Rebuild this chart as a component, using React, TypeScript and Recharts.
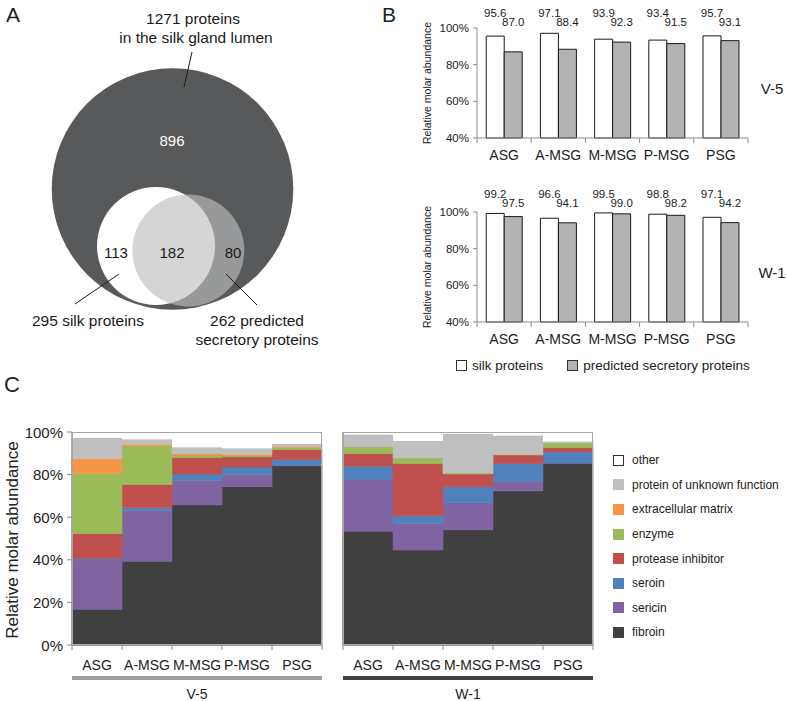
import React from "react";
import { BarChart, Bar, XAxis, YAxis, LabelList, ScatterChart, Scatter, ZAxis } from "recharts";

const FONT = '"Liberation Sans", Arial, Helvetica, sans-serif';
const AXIS = "#8c8c8c";
const INK = "#222";

// ---------- A: Venn diagram (circle centres / radii in diagram units)
const vennSets = ["lumen", "silk", "secretory"];
const vennCx = [172.5, 156, 188.3];
const vennCy = [189, 246, 250.5];
const vennR = [120.8, 59, 56];

const countLabels = ["896", "113", "182", "80"];
const countX = [172, 116, 172, 233];
const countY = [140, 252, 252, 252];

const captionLines = ["1271 proteins", "in the silk gland lumen", "295 silk proteins", "262 predicted", "secretory proteins"];
const captionX = [193, 196, 88, 257, 257];
const captionY = [18, 37, 320, 320, 339];

const leaderLumen = [{ x: 192, y: 52 }, { x: 184, y: 87 }];
const leaderSilk = [{ x: 119, y: 274 }, { x: 75, y: 304 }];
const leaderSecretory = [{ x: 226, y: 274 }, { x: 257, y: 305 }];

// ---------- B: share of silk / predicted secretory proteins (%)
const regions = ["ASG", "A-MSG", "M-MSG", "P-MSG", "PSG"];
const silkV5 = [95.6, 97.1, 93.9, 93.4, 95.7];
const secretoryV5 = [87.0, 88.4, 92.3, 91.5, 93.1];
const silkW1 = [99.2, 96.6, 99.5, 98.8, 97.1];
const secretoryW1 = [97.5, 94.1, 99.0, 98.2, 94.2];

// ---------- C: relative molar abundance by protein class (%)
const v5Fibroin = [16.8, 39.3, 65.7, 74.4, 84.1];
const v5Sericin = [23.1, 23.7, 11.7, 5.8, 0.3];
const v5Seroin = [0.7, 1.4, 2.9, 3.4, 2.7];
const v5Inhibitor = [11.8, 11.0, 7.7, 4.7, 4.6];
const v5Enzyme = [28.1, 18.2, 1.2, 0.6, 1.0];
const v5Matrix = [7.0, 0.6, 0.7, 0.5, 0.4];
const v5Unknown = [9.8, 2.4, 2.9, 3.0, 1.3];
const v5Other = [2.7, 3.4, 7.2, 7.6, 5.6];

const w1Fibroin = [53.4, 44.6, 54.1, 72.4, 85.2];
const w1Sericin = [24.4, 12.5, 12.7, 4.4, 0.3];
const w1Seroin = [6.1, 3.6, 7.5, 8.4, 5.1];
const w1Inhibitor = [6.0, 24.5, 6.0, 4.0, 2.1];
const w1Enzyme = [3.1, 2.6, 0.4, 0.3, 2.2];
const w1Matrix = [0, 0, 0, 0, 0];
const w1Unknown = [5.8, 8.0, 18.5, 8.8, 0.6];
const w1Other = [1.2, 4.2, 0.8, 1.7, 4.5];

const classKeys = ["fibroin", "sericin", "seroin", "inhibitor", "enzyme", "matrix", "unknown", "other"];
const classNames = ["fibroin", "sericin", "seroin", "protease inhibitor", "enzyme", "extracellular matrix", "protein of unknown function", "other"];
const classColors: Record<string, string> = {
  fibroin: "#404040",
  sericin: "#8064a2",
  seroin: "#4f81bd",
  inhibitor: "#c0504d",
  enzyme: "#9bbb59",
  matrix: "#f79646",
  unknown: "#bfbfbf",
  other: "#ffffff",
};

const vennStyle: Record<string, { fill: string; opacity: number }> = {
  lumen: { fill: "#58595b", opacity: 1 },
  silk: { fill: "#ffffff", opacity: 1 },
  secretory: { fill: "#bebebe", opacity: 0.64 },
};

const circleData = vennSets.map((s, i) => ({ name: s, x: vennCx[i], y: vennCy[i], area: Math.PI * vennR[i] * vennR[i] }));
const countData = countLabels.map((l, i) => ({ label: l, x: countX[i], y: countY[i], white: i === 0 }));
const captionData = captionLines.map((l, i) => ({ label: l, x: captionX[i], y: captionY[i] }));
const MAX_AREA = 200000;

const pairData = (a: number[], b: number[]) => regions.map((r, i) => ({ region: r, silk: a[i], secretory: b[i] }));
const stackData = (cols: number[][]) =>
  regions.map((r, i) => {
    const row: Record<string, any> = { region: r };
    classKeys.forEach((k, j) => (row[k] = cols[j][i]));
    return row;
  });

const v5Stack = stackData([v5Fibroin, v5Sericin, v5Seroin, v5Inhibitor, v5Enzyme, v5Matrix, v5Unknown, v5Other]);
const w1Stack = stackData([w1Fibroin, w1Sericin, w1Seroin, w1Inhibitor, w1Enzyme, w1Matrix, w1Unknown, w1Other]);

// category tick with separators at the band edges
const bandTick = (band: number, fontSize: number, dy: number) => (props: any) => {
  const { x, y, payload, index } = props;
  return (
    <g>
      <line x1={x - band / 2} x2={x - band / 2} y1={y} y2={y + 5} stroke={AXIS} />
      {index === regions.length - 1 && <line x1={x + band / 2} x2={x + band / 2} y1={y} y2={y + 5} stroke={AXIS} />}
      <text x={x} y={y + dy} textAnchor="middle" dominantBaseline="central" fontSize={fontSize} fill={INK} fontFamily={FONT}>
        {payload.value}
      </text>
    </g>
  );
};

const Abs = ({ x, y, size, children, color, rotate }: any) => (
  <div
    style={{
      position: "absolute",
      left: x,
      top: y,
      transform: `translate(-50%, -50%)${rotate ? ` rotate(${rotate}deg)` : ""}`,
      whiteSpace: "nowrap",
      fontSize: size,
      color: color || INK,
      lineHeight: 1,
    }}
  >
    {children}
  </div>
);

function Venn() {
  return (
    <div style={{ position: "absolute", left: 0, top: 0 }}>
      <ScatterChart width={400} height={400} margin={{ top: 0, right: 0, bottom: 0, left: 0 }}>
        <XAxis type="number" dataKey="x" domain={[0, 400]} hide />
        <YAxis type="number" dataKey="y" domain={[0, 400]} reversed hide />
        <ZAxis type="number" dataKey="area" domain={[0, MAX_AREA]} range={[0, MAX_AREA]} />
        <Scatter
          data={circleData}
          isAnimationActive={false}
          shape={(p: any) => {
            const st = vennStyle[p.payload.name];
            return <circle cx={p.cx} cy={p.cy} r={p.width / 2} fill={st.fill} fillOpacity={st.opacity} />;
          }}
        />
        {[leaderLumen, leaderSilk, leaderSecretory].map((d, i) => (
          <Scatter
            key={i}
            data={d}
            isAnimationActive={false}
            line={{ stroke: "#1a1a1a", strokeWidth: 1 }}
            shape={() => <g />}
          />
        ))}
        <Scatter
          data={countData}
          isAnimationActive={false}
          shape={(p: any) => (
            <text x={p.cx} y={p.cy} textAnchor="middle" dominantBaseline="central" fontSize={15} fontFamily={FONT} fill={p.payload.white ? "#ffffff" : "#1a1a1a"}>
              {p.payload.label}
            </text>
          )}
        />
        <Scatter
          data={captionData}
          isAnimationActive={false}
          shape={(p: any) => (
            <text x={p.cx} y={p.cy} textAnchor="middle" dominantBaseline="central" fontSize={15.5} fontFamily={FONT} fill="#1a1a1a">
              {p.payload.label}
            </text>
          )}
        />
      </ScatterChart>
    </div>
  );
}

function CoverageChart({ data, top, tag, whiteDy, grayDy }: any) {
  const PLOT_TOP = 28;
  const bar = (key: string, fill: string, dy: number) => (
    <Bar dataKey={key} fill={fill} stroke="#1a1a1a" strokeWidth={1} isAnimationActive={false}>
      <LabelList
        dataKey={key}
        content={(p: any) => (
          <text x={p.x + p.width / 2} y={PLOT_TOP - dy} textAnchor="middle" fontSize={11.5} fontFamily={FONT} fill={INK}>
            {Number(p.value).toFixed(1)}
          </text>
        )}
      />
    </Bar>
  );
  return (
    <div style={{ position: "absolute", left: 400, top }}>
      <BarChart width={387} height={175} data={data} margin={{ top: PLOT_TOP, right: 39, bottom: 7, left: 37 }} barCategoryGap="17%" barGap={0}>
        <XAxis dataKey="region" interval={0} height={30} axisLine={{ stroke: AXIS }} tickLine={false} tickSize={0} tickMargin={0} tick={bandTick(271 / 5, 14, 17)} />
        <YAxis
          width={40}
          domain={[40, 100]}
          ticks={[40, 60, 80, 100]}
          tickCount={4}
          tickFormatter={(v: number) => `${v}%`}
          axisLine={{ stroke: AXIS }}
          tickLine={{ stroke: AXIS }}
          tickSize={4}
          tickMargin={4}
          tick={{ fontSize: 11.5, fill: INK, fontFamily: FONT }}
        />
        {bar("silk", "#ffffff", whiteDy)}
        {bar("secretory", "#b3b3b3", grayDy)}
      </BarChart>
      <Abs x={27} y={83} size={10.5} rotate={-90}>Relative molar abundance</Abs>
      <Abs x={372} y={88} size={15}>{tag}</Abs>
    </div>
  );
}

const pctTick = (props: any) =>
  props.payload.value % 20 === 0 ? (
    <text x={props.x} y={props.y} textAnchor="end" dominantBaseline="central" fontSize={15} fontFamily={FONT} fill={INK}>
      {props.payload.value}%
    </text>
  ) : (
    <g />
  );

function StackChart({ data, left, width, margin, labels }: any) {
  const yw = labels ? 62 : 1;
  const band = (width - margin.left - margin.right - yw) / 5;
  return (
    <div style={{ position: "absolute", left, top: 420 }}>
      <BarChart width={width} height={260} data={data} margin={margin} barCategoryGap={0} barGap={0}>
        <XAxis dataKey="region" interval={0} height={30} axisLine={{ stroke: AXIS, strokeWidth: 1.3 }} tickLine={false} tickSize={0} tickMargin={0} tick={bandTick(band, 14, 20)} />
        <YAxis
          width={yw}
          domain={[0, 100]}
          ticks={[0, 10, 20, 30, 40, 50, 60, 70, 80, 90, 100]}
          axisLine={{ stroke: AXIS, strokeWidth: 1.3 }}
          tickLine={{ stroke: AXIS }}
          tickSize={labels ? 5 : 3}
          tickMargin={4}
          tick={labels ? pctTick : false}
        />
        {classKeys.map((k) => (
          <Bar
            key={k}
            dataKey={k}
            stackId="s"
            fill={classColors[k]}
            stroke={k === "other" ? "none" : classColors[k]}
            strokeWidth={0.6}
            isAnimationActive={false}
          />
        ))}
      </BarChart>
      <div
        style={{
          position: "absolute",
          left: margin.left + yw,
          top: margin.top,
          width: width - margin.left - margin.right - yw,
          height: 260 - margin.top - margin.bottom - 30,
          border: "1.3px solid #a6a6a6",
          boxSizing: "border-box",
          pointerEvents: "none",
        }}
      />
    </div>
  );
}

export default function App() {
  return (
    <div style={{ position: "absolute", left: 0, top: 0, width: 787, height: 701, background: "#fff", fontFamily: FONT, overflow: "hidden" }}>
      <Venn />
      <Abs x={13} y={14} size={21}>A</Abs>
      <Abs x={389} y={14} size={21}>B</Abs>
      <Abs x={12} y={385} size={22}>C</Abs>

      <CoverageChart data={pairData(silkV5, secretoryV5)} top={0} tag="V-5" whiteDy={11} grayDy={2} />
      <CoverageChart data={pairData(silkW1, secretoryW1)} top={184} tag="W-1" whiteDy={14} grayDy={5} />

      {/* legend of B */}
      <div style={{ position: "absolute", left: 456, top: 358, display: "flex", alignItems: "center", fontSize: 13.5, color: INK }}>
        <span style={{ width: 9, height: 9, border: "1px solid #333", background: "#fff", marginRight: 5 }} />
        <span style={{ marginRight: 24 }}>silk proteins</span>
        <span style={{ width: 9, height: 9, border: "1px solid #333", background: "#b3b3b3", marginRight: 5 }} />
        <span>predicted secretory proteins</span>
      </div>

      <StackChart data={v5Stack} left={0} width={330} margin={{ top: 12, right: 8, bottom: 5, left: 10 }} labels />
      <StackChart data={w1Stack} left={330} width={270} margin={{ top: 12, right: 7, bottom: 5, left: 12 }} labels={false} />
      <Abs x={12} y={540} size={17} rotate={-90}>Relative molar abundance</Abs>

      <div style={{ position: "absolute", left: 72, top: 676, width: 250, height: 4, background: "#a0a0a0" }} />
      <div style={{ position: "absolute", left: 343, top: 676, width: 250, height: 4, background: "#404040" }} />
      <Abs x={197} y={694} size={14}>V-5</Abs>
      <Abs x={468} y={694} size={14}>W-1</Abs>

      {/* legend of C, top entry first */}
      <div style={{ position: "absolute", left: 613, top: 448 }}>
        {classKeys
          .map((k, i) => ({ k, name: classNames[i] }))
          .reverse()
          .map(({ k, name }) => (
            <div key={k} style={{ display: "flex", alignItems: "center", height: 24.6, fontSize: 12, color: INK }}>
              <span
                style={{
                  width: 11,
                  height: 11,
                  background: classColors[k],
                  border: k === "other" ? "1px solid #333" : "none",
                  boxSizing: "border-box",
                  marginRight: 8,
                  flexShrink: 0,
                }}
              />
              <span>{name}</span>
            </div>
          ))}
      </div>
    </div>
  );
}
